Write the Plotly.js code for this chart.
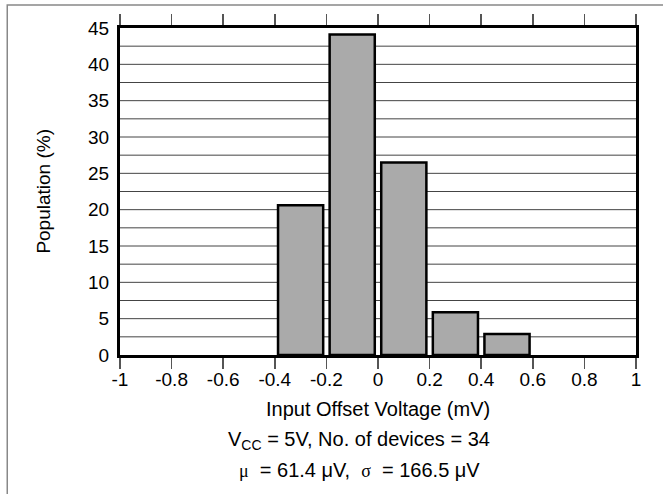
<!DOCTYPE html>
<html>
<head>
<meta charset="utf-8">
<script src="https://cdn.plot.ly/plotly-3.0.1.min.js"></script>
<style>html,body{margin:0;padding:0;background:#fff;}#chart{width:663px;height:494px;}</style>
</head>
<body>
<div id="chart"></div>
<script>
// Data
const binCenters = [-0.3, -0.1, 0.1, 0.3, 0.5];
const population = [20.6, 44.1, 26.5, 5.9, 2.9];
const xTickVals = [-1, -0.8, -0.6, -0.4, -0.2, 0, 0.2, 0.4, 0.6, 0.8, 1];
const xTickText = ["-1", "-0.8", "-0.6", "-0.4", "-0.2", "0", "0.2", "0.4", "0.6", "0.8", "1"];
const yTickVals = [0, 5, 10, 15, 20, 25, 30, 35, 40, 45];
const gridVals = [2.5, 5, 7.5, 10, 12.5, 15, 17.5, 20, 22.5, 25, 27.5, 30, 32.5, 35, 37.5, 40, 42.5];

const font = "Liberation Sans, Arial, sans-serif";

const shapes = gridVals.map(v => ({
  type: 'line', xref: 'x', yref: 'y', x0: -1, x1: 1, y0: v, y1: v,
  line: {color: '#444', width: 1}, layer: 'below'
}));
shapes.push({
  type: 'rect', xref: 'paper', yref: 'paper',
  x0: -0.2185, x1: 1.2, y0: -0.44, y1: 1.07,
  line: {color: '#888', width: 1.5}, fillcolor: 'rgba(0,0,0,0)'
});

const trace = {
  type: 'bar', x: binCenters, y: population, width: 0.175,
  marker: {color: '#aaaaaa', line: {color: '#000', width: 2.5}},
  hoverinfo: 'skip'
};

const layout = {
  width: 663, height: 494,
  margin: {l: 120, r: 27, t: 28, b: 139},
  paper_bgcolor: '#fff', plot_bgcolor: '#fff',
  showlegend: false,
  font: {family: font, size: 19, color: '#000'},
  xaxis: {
    range: [-1, 1], tickvals: xTickVals, ticktext: xTickText,
    ticks: 'outside', ticklen: 11, tickwidth: 1.5, tickcolor: '#555',
    showline: true, linecolor: '#000', linewidth: 3, mirror: 'ticks',
    showgrid: false, zeroline: false, ticklabelstandoff: -6,
    tickfont: {family: font, size: 19}
  },
  yaxis: {
    range: [0, 45], tickvals: yTickVals,
    ticks: '', showline: true, linecolor: '#000', linewidth: 3, mirror: true,
    showgrid: false, zeroline: false, ticklabelstandoff: 4,
    tickfont: {family: font, size: 19}
  },
  shapes: shapes,
  annotations: [
    {xref: 'paper', yref: 'paper', x: -0.149, y: 0.5, xanchor: 'center', yanchor: 'middle', showarrow: false,
     textangle: -90, text: 'Population (%)', font: {family: font, size: 19}},
    {xref: 'paper', yref: 'paper', x: 0.5, y: -0.165, xanchor: 'center', yanchor: 'middle', showarrow: false,
     text: 'Input Offset Voltage (mV)', font: {family: font, size: 20}},
    {xref: 'paper', yref: 'paper', x: 0.463, y: -0.26, xanchor: 'center', yanchor: 'middle', showarrow: false,
     text: 'V<sub>CC</sub> = 5V, No. of devices = 34', font: {family: font, size: 20}},
    {xref: 'paper', yref: 'paper', x: 0.465, y: -0.352, xanchor: 'center', yanchor: 'middle', showarrow: false,
     text: '<span style="font-family:Liberation Serif, Times New Roman, serif;font-size:18px">μ</span>\u00a0 = 61.4 μV,\u00a0 <span style="font-family:Liberation Serif, Times New Roman, serif;font-size:18px">σ</span>\u00a0 = 166.5 μV', font: {family: font, size: 20}}
  ]
};

Plotly.newPlot('chart', [trace], layout, {displayModeBar: false, staticPlot: true});
</script>
</body>
</html>
